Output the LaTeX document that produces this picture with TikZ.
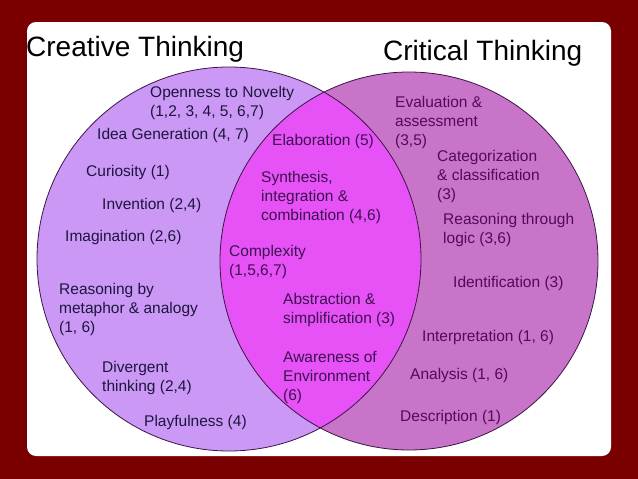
\documentclass[tikz,border=0pt]{standalone}
\usepackage{fontspec}
\setmainfont{Liberation Sans}
\definecolor{bgred}{RGB}{122,0,0}
\definecolor{leftfill}{RGB}{204,152,245}
\definecolor{rightfill}{RGB}{200,116,200}
\definecolor{lensfill}{RGB}{230,82,245}
\definecolor{ringline}{RGB}{60,20,70}
\definecolor{lefttext}{RGB}{28,22,62}
\definecolor{righttext}{RGB}{84,10,84}
\definecolor{lenstext}{RGB}{62,16,82}
\tikzset{
  lbl/.style={anchor=north west, inner sep=0pt, align=left,
    font=\fontsize{15.5}{19}\selectfont},
  ltxt/.style={lbl, text=lefttext},
  rtxt/.style={lbl, text=righttext},
  mtxt/.style={lbl, text=lenstext},
  title/.style={anchor=west, inner sep=0pt, text=black,
    font=\fontsize{28}{32}\selectfont},
  ring/.style={draw=ringline, line width=0.8pt}
}
\begin{document}
\begin{tikzpicture}[x=1pt,y=-1pt]
\useasboundingbox (0,0) rectangle (638,479);
\fill[bgred] (0,0) rectangle (638,479);
\fill[white, rounded corners=9pt] (27,22) rectangle (611,456);
% circles
\fill[leftfill] (229,259) circle (192);
\fill[rightfill] (409,261) circle (189);
\begin{scope}
  \clip (229,259) circle (192);
  \fill[lensfill] (409,261) circle (189);
\end{scope}
\draw[ring] (229,259) circle (192);
\draw[ring] (409,261) circle (189);
% titles
\node[title] (ttlA) at (26,49) {Creative Thinking};
\node[title] (ttlB) at (383,53) {Critical Thinking};
% left
\node[ltxt] (open) at (150,86.5) {Openness to Novelty\\(1,2, 3, 4, 5, 6,7)};
\node[ltxt] (idea) at (97,128.5) {Idea Generation (4, 7)};
\node[ltxt] (curi) at (86,165.5) {Curiosity (1)};
\node[ltxt] (inve) at (102,198.5) {Invention (2,4)};
\node[ltxt] (imag) at (65,230.5) {Imagination (2,6)};
\node[ltxt] (reas) at (59,283.5) {Reasoning by\\metaphor \& analogy\\(1, 6)};
\node[ltxt] (dive) at (102,361.5) {Divergent\\thinking (2,4)};
\node[ltxt] (play) at (144,415.5) {Playfulness (4)};
% lens
\node[mtxt] (elab) at (272,134.5) {Elaboration (5)};
\node[mtxt] (synt) at (261,171.5) {Synthesis,\\integration \&\\combination (4,6)};
\node[mtxt] (comp) at (229,245.5) {Complexity\\(1,5,6,7)};
\node[mtxt] (abst) at (283,293.5) {Abstraction \&\\simplification (3)};
\node[mtxt] (awar) at (283,351.5) {Awareness of\\Environment\\(6)};
% right
\node[rtxt] (eval) at (395,96.5) {Evaluation \&\\assessment\\(3,5)};
\node[rtxt] (cate) at (437,150.5) {Categorization\\\& classification\\(3)};
\node[rtxt] (logi) at (443,213.5) {Reasoning through\\logic (3,6)};
\node[rtxt] (iden) at (453,276.5) {Identification (3)};
\node[rtxt] (inte) at (422,330.5) {Interpretation (1, 6)};
\node[rtxt] (anal) at (410,368.5) {Analysis (1, 6)};
\node[rtxt] (desc) at (400,410.5) {Description (1)};
\end{tikzpicture}
\end{document}
